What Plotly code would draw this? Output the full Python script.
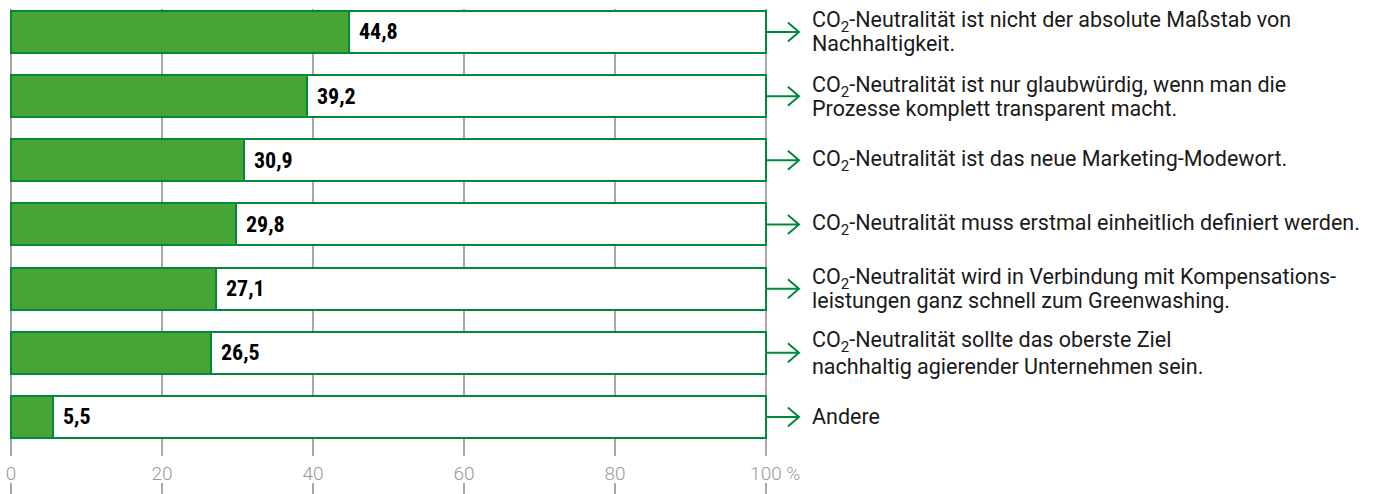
import plotly.graph_objects as go

values = [44.8, 39.2, 30.9, 29.8, 27.1, 26.5, 5.5]
value_labels = ["44,8", "39,2", "30,9", "29,8", "27,1", "26,5", "5,5"]
statements = [
    ["CO<sub>2</sub>-Neutralität ist nicht der absolute Maßstab von", "Nachhaltigkeit."],
    ["CO<sub>2</sub>-Neutralität ist nur glaubwürdig, wenn man die", "Prozesse komplett transparent macht."],
    ["CO<sub>2</sub>-Neutralität ist das neue Marketing-Modewort."],
    ["CO<sub>2</sub>-Neutralität muss erstmal einheitlich definiert werden."],
    ["CO<sub>2</sub>-Neutralität wird in Verbindung mit Kompensations-", "leistungen ganz schnell zum Greenwashing."],
    ["CO<sub>2</sub>-Neutralität sollte das oberste Ziel", "nachhaltig agierender Unternehmen sein."],
    ["Andere"],
]
tick_vals = [0, 20, 40, 60, 80, 100]
tick_text = ["0", "20", "40", "60", "80", "\u00a0\u00a0\u00a0\u00a0100\u00a0%"]

FILL = "#45a535"
EDGE = "#00893a"
GRID = "#a8a8a8"
TEXT = "#1a1a1a"
FONT = "Roboto"
BOLD = "Liberation Sans Narrow, Roboto Condensed, Roboto"

pos = list(range(len(values)))
W, H = 1373, 494
x_range = [-1.457, 180.4]
y_range = [6.608, -0.358]
px_per_y = 64.17
line_gap = {5: 25}

fig = go.Figure()
fig.add_trace(go.Bar(
    x=[100] * len(values), y=pos, orientation="h", width=0.655,
    marker=dict(color="white", line=dict(color=EDGE, width=2)),
    hoverinfo="skip", showlegend=False, xaxis="x", yaxis="y",
))
fig.add_trace(go.Bar(
    x=values, y=pos, orientation="h", width=0.655,
    marker=dict(color=FILL, line=dict(color=EDGE, width=2)),
    showlegend=False, xaxis="x", yaxis="y",
))
# bottom strip for the gridline stubs below the tick labels
fig.add_trace(go.Scatter(x=[0], y=[0], mode="markers", marker=dict(opacity=0),
                         hoverinfo="skip", showlegend=False, xaxis="x2", yaxis="y2"))

ann = []
shapes = []
for i, (v, lab, st) in enumerate(zip(values, value_labels, statements)):
    ann.append(dict(x=v, y=i, xref="x", yref="y", text=lab, showarrow=False,
                    xanchor="left", yanchor="middle", xshift=8,
                    font=dict(family=BOLD, size=22, color="black", weight="bold")))
    n = len(st)
    gap = line_gap.get(i, 22)
    for j, line in enumerate(st):
        off = (j - (n - 1) / 2) * gap
        ann.append(dict(x=105.8, y=i, xref="x", yref="y", text=line, showarrow=False,
                        xanchor="left", yanchor="middle", yshift=-off - (1 if n > 1 else 0),
                        font=dict(family=FONT, size=21.5, color=TEXT)))
    # arrow
    dy = 9.5 / px_per_y
    shapes.append(dict(type="path", xref="x", yref="y",
                       path=f"M 100,{i} L 104.37,{i} M 102.9,{i-dy} L 104.37,{i} L 102.9,{i+dy}",
                       line=dict(color=EDGE, width=2)))

fig.update_layout(
    width=W, height=H, margin=dict(l=0, r=0, t=0, b=0),
    paper_bgcolor="white", plot_bgcolor="white",
    barmode="overlay", bargap=0,
    annotations=ann, shapes=shapes,
    xaxis=dict(range=x_range, tickvals=tick_vals, ticktext=tick_text,
               showgrid=True, gridcolor=GRID, gridwidth=2, zeroline=False,
               showline=False, ticks="", ticklabelstandoff=4,
               tickfont=dict(family=FONT, size=19, color="#9a9a9a", weight=300),
               anchor="y"),
    yaxis=dict(range=y_range, domain=[38 / H, 1 - 9 / H], showgrid=False,
               zeroline=False, showticklabels=False, ticks="", anchor="x"),
    xaxis2=dict(range=x_range, tickvals=tick_vals, showgrid=True, gridcolor=GRID,
                gridwidth=2, zeroline=False, showticklabels=False, ticks="",
                anchor="y2"),
    yaxis2=dict(range=[0, 1], domain=[0, 11 / H], showgrid=False, zeroline=False,
                showticklabels=False, ticks="", anchor="x2"),
)

fig.write_html("out.html")
